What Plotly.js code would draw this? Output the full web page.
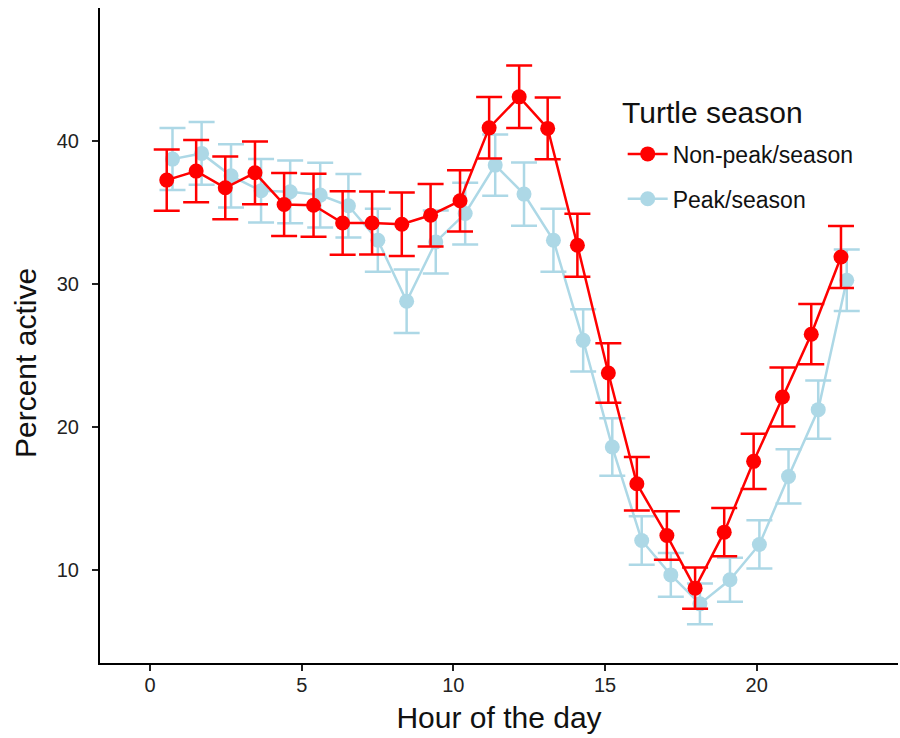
<!DOCTYPE html>
<html>
<head>
<meta charset="utf-8">
<script src="https://cdn.plot.ly/plotly-3.0.1.min.js"></script>
<style>html,body{margin:0;padding:0;background:#fff;}#chart{width:900px;height:738px;}</style>
</head>
<body>
<div id="chart"></div>
<script>
// Hour positions as drawn (dodged per group)
const nonPeakX = [0.55,1.52,2.48,3.46,4.42,5.39,6.35,7.32,8.30,9.25,10.22,11.18,12.17,13.11,14.09,15.11,16.05,17.04,17.97,18.93,19.90,20.85,21.80,22.78];
const peakX    = [0.74,1.70,2.67,3.66,4.62,5.61,6.54,7.51,8.46,9.42,10.39,11.38,12.33,13.30,14.28,15.24,16.21,17.17,18.13,19.12,20.09,21.05,22.03,22.97];

// Percent active
const nonPeakY = [37.27,37.90,36.73,37.78,35.56,35.51,34.27,34.27,34.18,34.81,35.82,40.93,43.10,40.89,32.71,23.76,16.01,12.39,8.70,12.62,17.58,22.08,26.48,31.89];
const peakY    = [38.74,39.14,37.57,36.52,36.45,36.22,35.47,33.06,28.79,32.94,34.93,38.32,36.29,33.06,26.05,18.58,12.04,9.63,7.60,9.29,11.76,16.52,21.20,30.26];

// Error (± SE)
const nonPeakErr = [2.14,2.18,2.20,2.20,2.21,2.21,2.22,2.21,2.22,2.19,2.14,2.15,2.19,2.16,2.20,2.08,1.87,1.70,1.44,1.69,1.93,2.07,2.11,2.17];
const peakErr    = [2.17,2.19,2.21,2.22,2.20,2.26,2.22,2.20,2.22,2.21,2.16,2.15,2.22,2.20,2.18,2.01,1.70,1.54,1.43,1.54,1.69,1.90,2.04,2.16];

const seriesNames = ["Non-peak/season", "Peak/season"];
const legendTitle = "Turtle season";
const xTitle = "Hour of the day";
const yTitle = "Percent active";
const xTicks = [0, 5, 10, 15, 20];
const yTicks = [10, 20, 30, 40];

const RED = "#FF0000";
const BLUE = "#ADD8E6";
const FONT = "Liberation Sans, Arial, sans-serif";

const traces = [
  {
    type: "scatter", mode: "lines+markers", name: seriesNames[1],
    x: peakX, y: peakY, legendgroup: "b", legendrank: 2,
    line: {color: BLUE, width: 2.5},
    marker: {color: BLUE, size: 15},
    error_y: {type: "data", array: peakErr, visible: true, color: BLUE, thickness: 2.5, width: 13}
  },
  {
    type: "scatter", mode: "lines+markers", name: seriesNames[0],
    x: nonPeakX, y: nonPeakY, legendgroup: "a", legendrank: 1,
    line: {color: RED, width: 2.5},
    marker: {color: RED, size: 15},
    error_y: {type: "data", array: nonPeakErr, visible: true, color: RED, thickness: 2.5, width: 13}
  }
];

const axisCommon = {
  showgrid: false, zeroline: false, showline: true, linecolor: "#000", linewidth: 2,
  ticks: "outside", ticklen: 6, tickwidth: 2, tickcolor: "#222",
  tickfont: {family: FONT, size: 20, color: "#222"}
};

const layout = {
  width: 900, height: 738,
  paper_bgcolor: "#fff", plot_bgcolor: "#fff",
  margin: {l: 100, r: 2, t: 8, b: 75},
  font: {family: FONT, color: "#000"},
  showlegend: true,
  legend: {
    x: 0.655, y: 0.81, xanchor: "left", yanchor: "top",
    font: {family: FONT, size: 23, color: "#111"},
    bgcolor: "rgba(0,0,0,0)", tracegroupgap: 12, itemwidth: 40
  },
  xaxis: Object.assign({}, axisCommon, {
    range: [-1.65, 24.66], tickvals: xTicks, ticklabelstandoff: -3,
    title: {text: xTitle, font: {family: FONT, size: 30, color: "#111"}, standoff: 12}
  }),
  yaxis: Object.assign({}, axisCommon, {
    range: [3.46, 49.32], tickvals: yTicks, ticklabelstandoff: 9
  }),
  annotations: [
    {
      text: yTitle, textangle: -90, showarrow: false,
      xref: "paper", yref: "paper", x: -0.094, y: 0.458,
      xanchor: "center", yanchor: "middle",
      font: {family: FONT, size: 30, color: "#111"}
    },
    {
      text: legendTitle, showarrow: false,
      xref: "paper", yref: "paper", x: 0.652, y: 0.84,
      xanchor: "left", yanchor: "middle",
      font: {family: FONT, size: 30, color: "#111"}
    }
  ]
};

Plotly.newPlot("chart", traces, layout, {displayModeBar: false, staticPlot: true});
</script>
</body>
</html>
